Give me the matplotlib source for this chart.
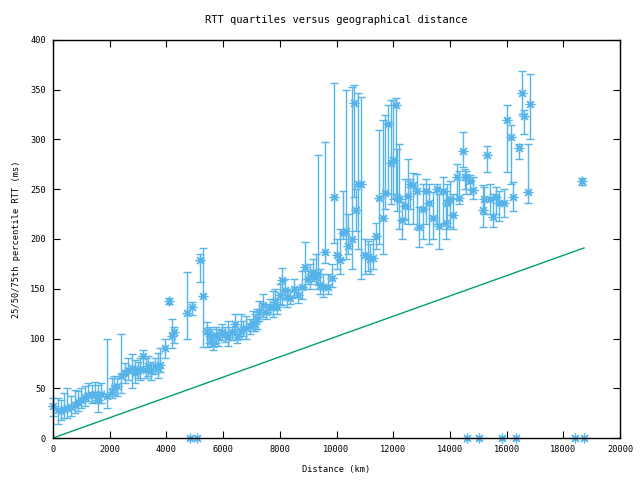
import matplotlib
matplotlib.use('Agg')
import matplotlib.pyplot as plt

# distance (km) and 25th / 50th / 75th percentile RTT (ms)
dist = [0, 165, 280, 380, 480, 635, 760, 880, 1000, 1120, 1235, 1365, 1480, 1590, 1700,
        1890, 2070, 2160, 2245, 2400, 2540, 2660, 2790, 2890, 3000, 3070, 3170, 3280, 3360,
        3460, 3600, 3700, 3770, 3950, 4100, 4185, 4280, 4715, 4890, 5185, 5300, 5440, 5510,
        5580, 5650, 5750, 5830, 5950, 6065, 6180, 6300, 6420, 6500, 6620, 6700, 6805, 6950,
        7040, 7125, 7200, 7280, 7420, 7510, 7655, 7745, 7830, 7910, 8005, 8065, 8180, 8270,
        8360, 8500, 8650, 8770, 8890, 8980, 9065, 9180, 9270, 9360, 9420, 9510, 9590, 9710,
        9830, 9910, 10030, 10120, 10215, 10320, 10415, 10535, 10630, 10690, 10770, 10880,
        11000, 11120, 11180, 11290, 11390, 11510, 11630, 11720, 11830, 11920, 12000, 12100,
        12150, 12215, 12300, 12415, 12530, 12590, 12710, 12825, 12920, 13040, 13155, 13270,
        13410, 13530, 13625, 13745, 13860, 13910, 14000, 14120, 14240, 14330, 14450, 14530,
        14565, 14710, 14825, 15155, 15200, 15320, 15415, 15530, 15625, 15740, 15905, 16020,
        16140, 16235, 16445, 16530, 16620, 16740, 16820, 18650]
rtt_med = [32, 28, 27, 29, 30, 31, 33, 36, 38, 41, 43, 43, 44, 38, 44,
           42, 46, 50, 52, 62, 65, 68, 70, 65, 68, 69, 82, 68, 72,
           67, 72, 70, 73, 90, 138, 103, 107, 126, 132, 179, 143, 108, 105,
           100, 94, 104, 102, 107, 105, 102, 107, 115, 102, 108, 110, 111, 113,
           116, 115, 120, 127, 134, 127, 132, 132, 137, 132, 144, 159, 149, 142,
           141, 150, 144, 152, 172, 160, 162, 167, 162, 165, 154, 152, 187, 152,
           161, 242, 184, 179, 206, 208, 193, 200, 337, 229, 255, 255,
           184, 182, 180, 181, 203, 241, 221, 246, 316, 276, 279, 335,
           241, 240, 219, 233, 243, 255, 254, 248, 212, 230, 248, 236,
           221, 250, 213, 248, 216, 236, 240, 224, 262, 241, 288, 262,
           262, 258, 249, 229, 240, 284, 240, 222, 242, 236, 236, 320,
           303, 242, 291, 347, 324, 247, 336, 258]
rtt_lo = [22, 14, 18, 20, 20, 22, 25, 27, 30, 32, 37, 35, 36, 26, 35,
          30, 40, 44, 42, 45, 55, 58, 50, 55, 60, 58, 70, 60, 62,
          58, 64, 60, 66, 80, 135, 90, 95, 100, 124, 157, 91, 91, 95,
          92, 88, 95, 92, 98, 96, 92, 98, 105, 95, 100, 103, 100, 105,
          108, 108, 110, 118, 122, 120, 125, 122, 130, 125, 135, 134, 140, 132,
          135, 142, 136, 140, 150, 155, 150, 158, 155, 150, 145, 142, 176, 145,
          152, 196, 170, 165, 200, 180, 185, 170, 242, 208, 190, 160,
          165, 168, 165, 170, 190, 195, 185, 230, 245, 235, 240, 245,
          228, 210, 200, 220, 215, 230, 215, 210, 192, 200, 215, 195,
          200, 215, 190, 215, 200, 210, 212, 210, 240, 235, 272, 250,
          245, 245, 240, 212, 225, 267, 225, 212, 225, 218, 222, 267,
          255, 228, 280, 326, 306, 236, 300, 254]
rtt_hi = [40, 40, 38, 45, 50, 42, 48, 47, 50, 52, 55, 53, 56, 53, 55,
          99, 60, 62, 60, 105, 75, 80, 84, 78, 76, 80, 88, 80, 82,
          76, 80, 85, 90, 100, 141, 120, 112, 167, 137, 185, 191, 117, 112,
          110, 105, 112, 110, 115, 112, 118, 112, 125, 110, 125, 118, 123, 120,
          128, 125, 130, 138, 145, 135, 140, 148, 150, 140, 155, 171, 160, 150,
          148, 160, 152, 168, 197, 168, 175, 180, 185, 284, 170, 165, 297, 165,
          175, 357, 200, 210, 248, 350, 225, 353, 355, 250, 347, 343,
          200, 198, 195, 200, 216, 310, 320, 325, 335, 340, 340, 342,
          290, 295, 237, 260, 280, 260, 266, 265, 232, 255, 260, 255,
          247, 255, 245, 262, 248, 255, 258, 245, 275, 268, 308, 270,
          268, 264, 262, 254, 252, 293, 255, 245, 252, 248, 250, 335,
          315, 257, 295, 369, 330, 295, 366, 261]

# pairs with no measured RTT, drawn on the x axis
zero_dist = [4830, 5080, 14620, 15035, 15850, 16330, 18410, 18730]
zero_rtt = [0, 0, 0, 0, 0, 0, 0, 0]

# speed-of-light-in-fibre reference line
ref_dist = [0, 18730]
ref_rtt = [0, 191]

blue = '#56b4e9'
green = '#009e73'

plt.rcParams['font.family'] = ['DejaVu Sans Mono']
plt.rcParams['font.size'] = 6.2

fig = plt.figure(figsize=(6.4, 4.8), dpi=100)
ax = fig.add_axes([53 / 640, 42 / 480, 567 / 640, 398 / 480])

yerr = [[m - l for m, l in zip(rtt_med, rtt_lo)], [h - m for m, h in zip(rtt_med, rtt_hi)]]
ax.errorbar(dist, rtt_med, yerr=yerr, fmt='none', ecolor=blue, elinewidth=1.0,
            capsize=2.6, capthick=1.0, clip_on=False)
ax.plot(dist, rtt_med, ls='none', marker=(8, 2, 0), ms=7, mew=0.9, color=blue, clip_on=False)
ax.plot(zero_dist, zero_rtt, ls='none', marker=(8, 2, 0), ms=7, mew=0.9, color=blue, clip_on=False)
ax.plot(ref_dist, ref_rtt, color=green, lw=1.0)

ax.set_xlim(0, 20000)
ax.set_ylim(0, 400)
ax.set_xticks(range(0, 20001, 2000))
ax.set_yticks(range(0, 401, 50))
ax.tick_params(direction='in', length=5, width=0.8, top=True, right=True, pad=5)
for s in ax.spines.values():
    s.set_linewidth(1.0)

ax.set_title('RTT quartiles versus geographical distance', pad=12)
ax.set_xlabel('Distance (km)', labelpad=8)
ax.set_ylabel('25/50/75th percentile RTT (ms)', labelpad=7)

fig.savefig('out.png', dpi=100)
